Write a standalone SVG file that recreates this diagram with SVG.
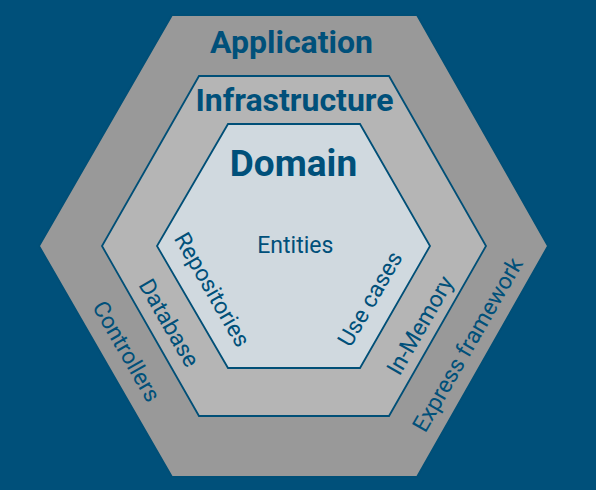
<svg xmlns="http://www.w3.org/2000/svg" width="596" height="490" viewBox="0 0 596 490">
<style>
.hex{stroke:#004f77;stroke-width:1.8;stroke-linejoin:miter}
.t{font-family:Roboto,"Liberation Sans",sans-serif;fill:#00507a;text-anchor:middle}
.b{font-weight:bold}
.s{font-size:23px}
</style>
<rect x="0" y="0" width="596" height="490" fill="#00507a"/>
<g id="application">
<polygon class="hex" fill="#999999" points="172,15 417,15 548,246 417,477 172,477 39,246"/>
<text class="t b" x="291.5" y="53" font-size="32">Application</text>
<text class="t s" transform="translate(125.8,351.7) rotate(60)" x="0" y="7">Controllers</text>
<text class="t s" transform="translate(468.3,345) rotate(-60)" x="0" y="7">Express framework</text>
</g>
<g id="infrastructure">
<polygon class="hex" fill="#b5b5b5" points="199,76 389,76 486,246 389,416 199,416 102,246"/>
<text class="t b" x="294.5" y="110.5" font-size="32">Infrastructure</text>
<text class="t s" transform="translate(168.3,323.3) rotate(60)" x="0" y="7">Database</text>
<text class="t s" transform="translate(420.8,325.8) rotate(-60)" x="0" y="7">In-Memory</text>
</g>
<g id="domain">
<polygon class="hex" fill="#d0d9df" points="228,124 360,124 430,246 360,368 228,368 157,246"/>
<text class="t b" x="293.5" y="176" font-size="37">Domain</text>
<text class="t s" x="295.3" y="253">Entities</text>
<text class="t s" transform="translate(211.5,290) rotate(60)" x="0" y="7">Repositories</text>
<text class="t s" transform="translate(370.8,299.2) rotate(-60)" x="0" y="7">Use cases</text>
</g>
<g id="connectors"></g>
</svg>
